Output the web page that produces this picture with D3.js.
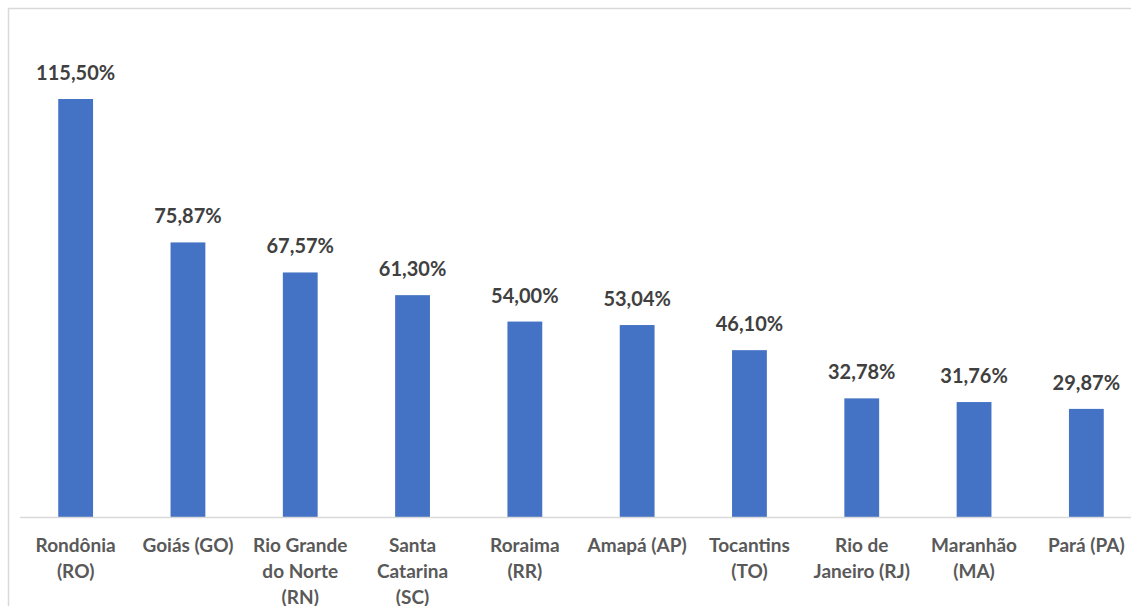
<!DOCTYPE html>
<html>
<head>
<meta charset="utf-8">
<script src="https://cdn.jsdelivr.net/npm/d3@7"></script>
<style>
  html, body { margin: 0; padding: 0; background: #fff; }
  svg { display: block; font-family: Lato, "Open Sans", sans-serif; }
</style>
</head>
<body>
<svg id="chart" width="1131" height="606"></svg>
<script>
// state codes and their growth values (%)
var states = ["RO", "GO", "RN", "SC", "RR", "AP", "TO", "RJ", "MA", "PA"];
var values = [115.50, 75.87, 67.57, 61.30, 54.00, 53.04, 46.10, 32.78, 31.76, 29.87];
var tickLabels = [
    ["Rondônia", "(RO)"],
    ["Goiás (GO)"],
    ["Rio Grande", "do Norte", "(RN)"],
    ["Santa", "Catarina", "(SC)"],
    ["Roraima", "(RR)"],
    ["Amapá (AP)"],
    ["Tocantins", "(TO)"],
    ["Rio de", "Janeiro (RJ)"],
    ["Maranhão", "(MA)"],
    ["Pará (PA)"]
];

var svg = d3.select("#chart");
var baseY = 517;

// outer chart border (only top and left are visible in the frame)
svg.append("rect")
    .attr("x", 8.5).attr("y", 8.5)
    .attr("width", 1140).attr("height", 620)
    .attr("fill", "none")
    .attr("stroke", "#d9d9d9")
    .attr("stroke-width", 1.5);

var x = d3.scaleBand()
    .domain(states)
    .range([19.5, 1142.5])
    .paddingInner(0.69)
    .paddingOuter(0.345);

var y = d3.scaleLinear()
    .domain([0, 115.5])
    .range([baseY, 99]);

var fmt = function (v) { return v.toFixed(2).replace(".", ",") + "%"; };

svg.selectAll(".bar")
    .data(values)
    .enter().append("rect")
    .attr("class", "bar")
    .attr("x", function (d, i) { return x(states[i]); })
    .attr("y", function (d) { return y(d); })
    .attr("width", x.bandwidth())
    .attr("height", function (d) { return baseY - y(d); })
    .attr("fill", "#4472c4");

// value labels above bars
svg.selectAll(".val")
    .data(values)
    .enter().append("text")
    .attr("class", "val")
    .attr("x", function (d, i) { return x(states[i]) + x.bandwidth() / 2; })
    .attr("y", function (d) { return y(d) - 19; })
    .attr("text-anchor", "middle")
    .style("font-size", "20px")
    .style("font-weight", "bold")
    .style("fill", "#404040")
    .text(fmt);

// category axis line
svg.append("line")
    .attr("x1", 20).attr("x2", 1131)
    .attr("y1", baseY + 0.5).attr("y2", baseY + 0.5)
    .attr("stroke", "#d9d9d9")
    .attr("stroke-width", 1.5);

// wrapped category labels
var ticks = svg.selectAll(".tick")
    .data(states)
    .enter().append("text")
    .attr("class", "tick")
    .attr("text-anchor", "middle")
    .style("font-size", "19px")
    .style("font-weight", "bold")
    .style("fill", "#595959");

ticks.each(function (s, i) {
    var t = d3.select(this);
    tickLabels[i].forEach(function (line, j) {
        t.append("tspan")
            .attr("x", x(s) + x.bandwidth() / 2)
            .attr("y", 552 + j * 26)
            .text(line);
    });
});
</script>
</body>
</html>
